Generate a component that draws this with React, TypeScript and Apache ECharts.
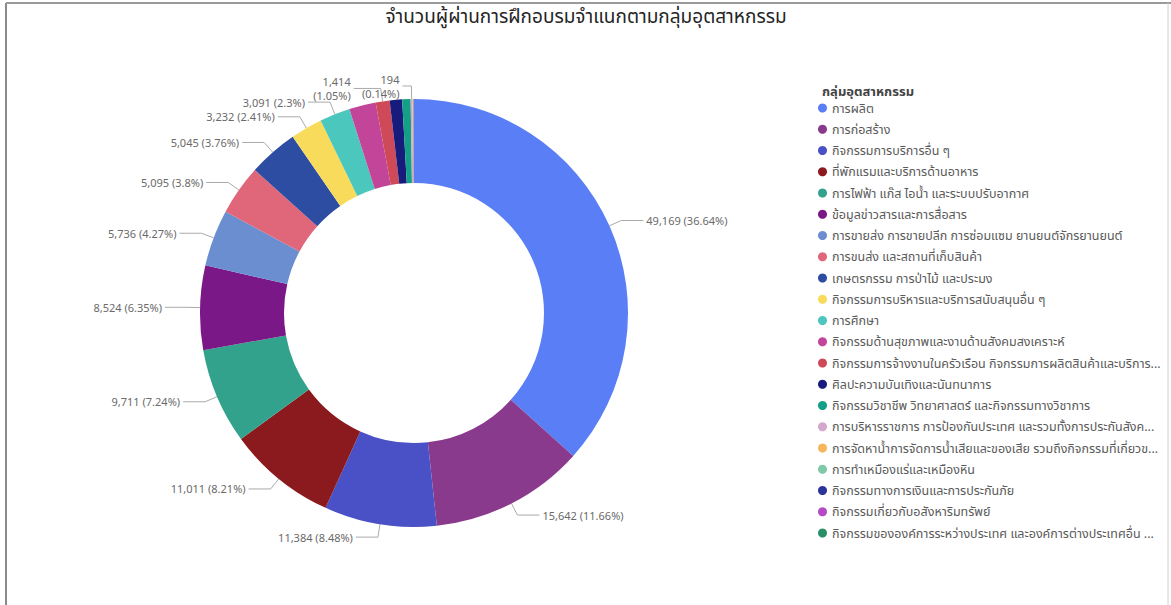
import React, { useEffect, useRef } from "react";
import * as echarts from "echarts";

const chartTitle = "จำนวนผู้ผ่านการฝึกอบรมจำแนกตามกลุ่มอุตสาหกรรม";
const legendTitle = "กลุ่มอุตสาหกรรม";

const categories = [
  "การผลิต",
  "การก่อสร้าง",
  "กิจกรรมการบริการอื่น ๆ",
  "ที่พักแรมและบริการด้านอาหาร",
  "การไฟฟ้า แก๊ส ไอน้ำ และระบบปรับอากาศ",
  "ข้อมูลข่าวสารและการสื่อสาร",
  "การขายส่ง การขายปลีก การซ่อมแซม ยานยนต์จักรยานยนต์",
  "การขนส่ง และสถานที่เก็บสินค้า",
  "เกษตรกรรม การป่าไม้ และประมง",
  "กิจกรรมการบริหารและบริการสนับสนุนอื่น ๆ",
  "การศึกษา",
  "กิจกรรมด้านสุขภาพและงานด้านสังคมสงเคราะห์",
  "กิจกรรมการจ้างงานในครัวเรือน กิจกรรมการผลิตสินค้าและบริการที่ทำขึ้นเองเพื่อใช้ในครัวเรือน",
  "ศิลปะความบันเทิงและนันทนาการ",
  "กิจกรรมวิชาชีพ วิทยาศาสตร์ และกิจกรรมทางวิชาการ",
  "การบริหารราชการ การป้องกันประเทศ และรวมทั้งการประกันสังคมภาคบังคับ",
  "การจัดหาน้ำการจัดการน้ำเสียและของเสีย รวมถึงกิจกรรมที่เกี่ยวข้อง",
  "การทำเหมืองแร่และเหมืองหิน",
  "กิจกรรมทางการเงินและการประกันภัย",
  "กิจกรรมเกี่ยวกับอสังหาริมทรัพย์",
  "กิจกรรมขององค์การระหว่างประเทศ และองค์การต่างประเทศอื่น ๆ ที่ไม่ขึ้นกับประเทศใด",
];

// legend texts as they appear (long names are cut off)
const legendLabels = [
  "การผลิต",
  "การก่อสร้าง",
  "กิจกรรมการบริการอื่น ๆ",
  "ที่พักแรมและบริการด้านอาหาร",
  "การไฟฟ้า แก๊ส ไอน้ำ และระบบปรับอากาศ",
  "ข้อมูลข่าวสารและการสื่อสาร",
  "การขายส่ง การขายปลีก การซ่อมแซม ยานยนต์จักรยานยนต์",
  "การขนส่ง และสถานที่เก็บสินค้า",
  "เกษตรกรรม การป่าไม้ และประมง",
  "กิจกรรมการบริหารและบริการสนับสนุนอื่น ๆ",
  "การศึกษา",
  "กิจกรรมด้านสุขภาพและงานด้านสังคมสงเคราะห์",
  "กิจกรรมการจ้างงานในครัวเรือน กิจกรรมการผลิตสินค้าและบริการ...",
  "ศิลปะความบันเทิงและนันทนาการ",
  "กิจกรรมวิชาชีพ วิทยาศาสตร์ และกิจกรรมทางวิชาการ",
  "การบริหารราชการ การป้องกันประเทศ และรวมทั้งการประกันสังค...",
  "การจัดหาน้ำการจัดการน้ำเสียและของเสีย รวมถึงกิจกรรมที่เกี่ยวข...",
  "การทำเหมืองแร่และเหมืองหิน",
  "กิจกรรมทางการเงินและการประกันภัย",
  "กิจกรรมเกี่ยวกับอสังหาริมทรัพย์",
  "กิจกรรมขององค์การระหว่างประเทศ และองค์การต่างประเทศอื่น ...",
];

const values = [
  49169, 15642, 11384, 11011, 9711, 8524, 5736, 5095, 5045, 3232, 3091, 2700,
  1414, 1250, 850, 194, 60, 40, 24, 12, 6,
];

// which slices carry a visible data label in the reference
const labelShown = [
  true, true, true, true, true, true, true, true, true, true, true, false,
  true, false, false, true, false, false, false, false, false,
];

const colors = [
  "#5A7EF5", "#8A3A8C", "#4A50C6", "#8B1A1E", "#33A28C", "#7A1888",
  "#6A8ED0", "#E0667A", "#2D4DA3", "#F9DB5B", "#4CC7BE", "#C2459A",
  "#CF4A58", "#161B7C", "#13A086", "#D4A8CC", "#F6B65C", "#7FC8A8",
  "#2B3499", "#B54AC7", "#2A8F68",
];

const FONT = "'Segoe UI', 'Noto Sans', 'Noto Sans Thai', 'DejaVu Sans', sans-serif";

export default function App() {
  const ref = useRef<HTMLDivElement>(null);

  useEffect(() => {
    document.body.style.margin = "0";
    if (!ref.current) return;
    const chart = echarts.init(ref.current, undefined, { renderer: "svg" });
    const total = values.reduce((a, b) => a + b, 0);
    const fmtNum = (v: number) => v.toLocaleString("en-US");
    const fmtPct = (v: number) => String(Math.round((v / total) * 10000) / 100);

    const data = categories.map((name, i) => {
      const small = values[i] < 2000;
      const tiny = values[i] < 1000;
      return {
        name,
        value: values[i],
        itemStyle: { color: colors[i] },
        label: {
          show: labelShown[i],
          formatter: small
            ? `${fmtNum(values[i])}\n(${fmtPct(values[i])}%)`
            : `${fmtNum(values[i])} (${fmtPct(values[i])}%)`,
        },
        labelLine: small
          ? { show: labelShown[i], length2: tiny ? 9 : 27 }
          : { show: labelShown[i] },
      };
    });

    chart.setOption({
      animation: false,
      textStyle: { fontFamily: FONT },
      title: [
        {
          text: chartTitle,
          left: 581,
          top: 1,
          textAlign: "center",
          textStyle: {
            fontSize: 19,
            fontWeight: "normal",
            color: "#252525",
            fontFamily: FONT,
          },
        },
        {
          text: legendTitle,
          left: 817,
          top: 79,
          textStyle: {
            fontSize: 13,
            fontWeight: "bold",
            color: "#444",
            fontFamily: FONT,
          },
        },
      ],
      legend: {
        orient: "vertical",
        left: 813,
        top: 96,
        icon: "circle",
        itemWidth: 9,
        itemHeight: 9,
        itemGap: 7.25,
        selectedMode: false,
        formatter: (name: string) => legendLabels[categories.indexOf(name)],
        textStyle: {
          fontSize: 12.5,
          lineHeight: 14,
          color: "#5a5a5a",
          fontFamily: FONT,
        },
        data: categories,
      },
      graphic: [
        {
          type: "line",
          shape: { x1: 6, y1: 3, x2: 6, y2: 605 },
          style: { stroke: "#8a8a8a", lineWidth: 2 },
        },
        {
          type: "line",
          shape: { x1: 6, y1: 3, x2: 1171, y2: 3 },
          style: { stroke: "#9a9a9a", lineWidth: 2 },
        },
        {
          type: "line",
          shape: { x1: 1168, y1: 3, x2: 1168, y2: 605 },
          style: { stroke: "#d0d0d0", lineWidth: 1 },
        },
      ],
      series: [
        {
          type: "pie",
          center: [414, 313],
          radius: [130, 214],
          startAngle: 90,
          clockwise: true,
          avoidLabelOverlap: false,
          labelLayout: { hideOverlap: false },
          label: {
            show: true,
            position: "outside",
            fontSize: 11,
            color: "#6a6a6a",
            fontFamily: FONT,
            lineHeight: 14,
            distanceToLabelLine: 3,
          },
          labelLine: {
            show: true,
            length: 13,
            length2: 22,
            lineStyle: { color: "#aaaaaa", width: 1 },
          },
          emphasis: { disabled: true },
          data,
        },
      ],
    });

    return () => chart.dispose();
  }, []);

  return <div ref={ref} style={{ width: 1171, height: 605 }} />;
}
